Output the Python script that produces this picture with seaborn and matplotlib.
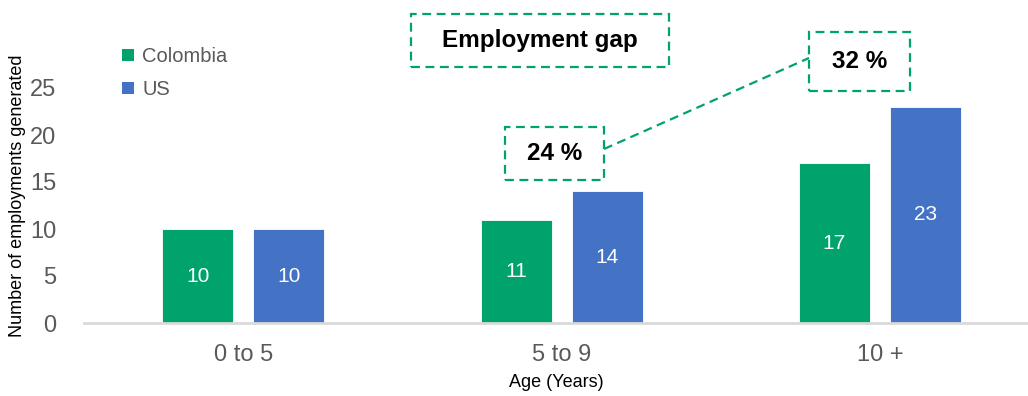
import matplotlib
matplotlib.use("Agg")
import matplotlib.pyplot as plt
from matplotlib.patches import Patch, Rectangle
from matplotlib.lines import Line2D
import seaborn as sns
import pandas as pd

# Data
age_groups = ["0 to 5", "5 to 9", "10 +"]
colombia = [10, 11, 17]
us = [10, 14, 23]
gap_labels = ["24 %", "32 %"]
title_text = "Employment gap"

GREEN = "#00A36C"
BLUE = "#4472C4"
GREY_TXT = "#595959"

df = pd.DataFrame({
    "age": age_groups * 2,
    "value": colombia + us,
    "country": ["Colombia"] * 3 + ["US"] * 3,
})

sns.set_theme(style="white")
plt.rcParams["font.family"] = ["Liberation Sans Narrow", "Liberation Sans", "DejaVu Sans"]

fig = plt.figure(figsize=(10.28, 3.96), dpi=100)
ax = fig.add_axes([84 / 1028, 1 - 323 / 396, (1028 - 84) / 1028, (323 - 88) / 396])

sns.barplot(data=df, x="age", y="value", hue="country", order=age_groups,
            hue_order=["Colombia", "US"], palette=[GREEN, BLUE], saturation=1,
            width=0.572, gap=0.22, ax=ax, legend=False, errorbar=None,
            edgecolor="white", linewidth=0.6)

for cont in ax.containers:
    ax.bar_label(cont, label_type="center", color="white", fontsize=15)

ax.set_ylim(0, 25)
ax.set_xlim(-0.5, 2.465)
ax.set_yticks([0, 5, 10, 15, 20, 25])
ax.tick_params(axis="y", labelsize=17, labelcolor=GREY_TXT, length=0, pad=20)
ax.tick_params(axis="x", labelsize=17, labelcolor=GREY_TXT, length=0, pad=15)
for s in ["top", "right", "left"]:
    ax.spines[s].set_visible(False)
ax.spines["bottom"].set_color("#D9D9D9")
ax.spines["bottom"].set_linewidth(2)
ax.set_xlabel("Age (Years)", fontsize=13, color="black", labelpad=6)
ax.set_ylabel("Number of employments generated", fontsize=13, color="black")
ax.yaxis.set_label_coords(-0.061, 0.54)

# Legend
handles = [Patch(facecolor=GREEN, edgecolor="none"), Patch(facecolor=BLUE, edgecolor="none")]
fig.legend(handles, ["Colombia", "US"], loc="upper left",
           bbox_to_anchor=(118 / 1028, 1 - 43 / 396), frameon=False,
           fontsize=14.5, handlelength=0.6, handleheight=0.6, handletextpad=0.4,
           labelspacing=0.7, labelcolor=GREY_TXT, borderaxespad=0, borderpad=0.2)

# Annotation boxes (figure pixel positions)
def fx(px):
    return px / 1028

def fy(py):
    return 1 - py / 396

def dashed_box(x0, y0, x1, y1, text, size):
    rect = Rectangle((fx(x0), fy(y1)), fx(x1) - fx(x0), fy(y0) - fy(y1),
                     transform=fig.transFigure, fill=False, edgecolor=GREEN,
                     linewidth=1.6, linestyle=(0, (4, 2.5)))
    fig.add_artist(rect)
    fig.text(fx((x0 + x1) / 2), fy((y0 + y1) / 2), text, ha="center", va="center",
             fontsize=size, fontweight="bold", color="black")

dashed_box(411, 14, 669, 67, title_text, 17.5)
dashed_box(505, 127, 604, 180, gap_labels[0], 17.5)
dashed_box(809, 32, 910, 91, gap_labels[1], 17.5)

fig.add_artist(Line2D([fx(604), fx(809)], [fy(149), fy(58)], transform=fig.transFigure,
                      color=GREEN, linewidth=1.6, linestyle=(0, (4, 2.5))))

fig.savefig("out.png", dpi=100)
